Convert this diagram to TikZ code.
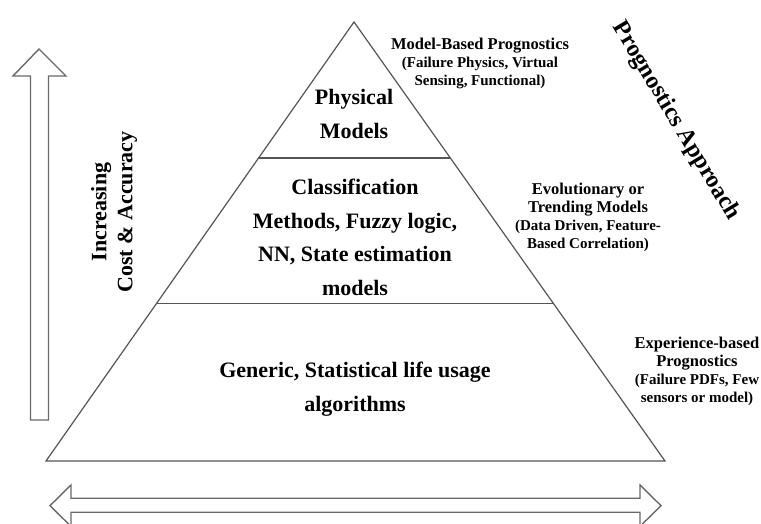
\documentclass[tikz,border=0pt]{standalone}
\usepackage{fontspec}
\setmainfont{Liberation Serif}
\usetikzlibrary{calc}
\definecolor{edgegray}{RGB}{85,85,85}
\definecolor{arrowgray}{RGB}{105,105,105}
\tikzset{
  tiertext/.style={font=\bfseries\fontsize{22}{33.5}\selectfont, align=center},
  sidetext/.style={font=\bfseries\fontsize{15}{18}\selectfont, align=center},
  hollowarrow/.style={draw=arrowgray, line width=1.4pt, fill=white, line join=miter},
}
\newcommand{\sidehead}[1]{{\fontsize{16.5}{18}\selectfont #1}}

\begin{document}
\begin{tikzpicture}[x=1pt,y=1pt]
\useasboundingbox (0,0) rectangle (761,524);
\coordinate (apex) at (354,502);
\coordinate (bl) at (46,63);
\coordinate (br) at (665,63);
\draw[edgegray, line width=1.2pt] (apex) -- (bl) -- (br) -- cycle;
\draw[edgegray, line width=1.2pt] ($(apex)!0.31!(bl)$) -- ($(apex)!0.31!(br)$);
\draw[edgegray, line width=1.2pt] ($(apex)!0.642!(bl)$) -- ($(apex)!0.642!(br)$);

\draw[hollowarrow] (39,475) -- (66,448) -- (48.5,448) -- (48.5,104) -- (30.5,104) -- (30.5,448) -- (13,448) -- cycle;
\draw[hollowarrow] (50,18.3) -- (71,39) -- (71,25.7) -- (640,25.7) -- (640,39) -- (661,18.3) -- (640,-2.4) -- (640,11.7) -- (71,11.7) -- (71,-2.4) -- cycle;

\node[tiertext] (physical) at (354,410) {Physical\\Models};
\node[tiertext] (classif) at (355,286.5) {Classification\\Methods, Fuzzy logic,\\NN, State estimation\\models};
\node[tiertext] (generic) at (355,135) {Generic, Statistical life usage\\algorithms};

\node[sidetext] (modelbased) at (480,461) {\sidehead{Model-Based Prognostics}\\(Failure Physics, Virtual\\Sensing, Functional)};
\node[sidetext] (evolution) at (588,307) {\sidehead{Evolutionary or}\\\sidehead{Trending Models}\\(Data Driven, Feature-\\Based Correlation)};
\node[sidetext] (experience) at (697,153) {\sidehead{Experience-based}\\\sidehead{Prognostics}\\(Failure PDFs, Few\\sensors or model)};

\node[tiertext, font=\bfseries\fontsize{22}{26}\selectfont, rotate=90] (costacc) at (114,312) {Increasing\\Cost \& Accuracy};
\node[font=\bfseries\fontsize{24}{28}\selectfont, rotate=-59] (approach) at (676,403) {Prognostics Approach};
\end{tikzpicture}
\end{document}
